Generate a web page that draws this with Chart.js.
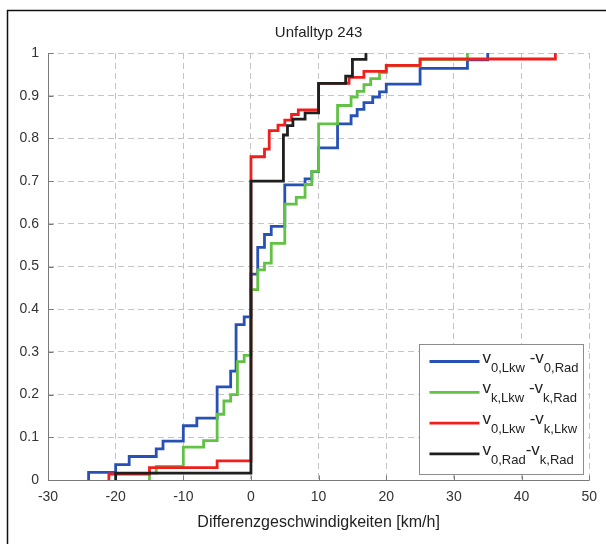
<!DOCTYPE html>
<html>
<head>
<meta charset="utf-8">
<script src="https://cdn.jsdelivr.net/npm/chart.js@4.4.0/dist/chart.umd.min.js"></script>
<style>
  html, body { margin: 0; padding: 0; background: #fff; }
</style>
</head>
<body>
<canvas id="cdfChart" width="606" height="544"></canvas>
<script>
// Sprungstellen (km/h) und Stufenhöhen der empirischen Verteilungen
const xBlau = [-24, -20, -18, -14, -13, -10, -8, -5, -3, -2.2, -1, 0, 1, 2, 3, 5, 8, 9, 10, 12.8, 14.8, 15.7, 16.7, 18, 19, 20, 25, 32, 35];
const yBlau = [0.018, 0.036, 0.055, 0.073, 0.091, 0.127, 0.145, 0.218, 0.255, 0.364, 0.382, 0.482, 0.545, 0.575, 0.594, 0.691, 0.705, 0.722, 0.778, 0.834, 0.853, 0.868, 0.884, 0.897, 0.909, 0.927, 0.964, 0.984, 1];

const xGruen = [-15, -14, -10, -7, -5, -4, -3, -2, -1, 0, 1, 2, 3, 5, 6.7, 8, 9, 10, 12.8, 14.8, 15.7, 16.7, 17.7, 19, 20, 25, 32];
const yGruen = [0.016, 0.032, 0.077, 0.092, 0.154, 0.185, 0.2, 0.277, 0.292, 0.446, 0.492, 0.508, 0.554, 0.646, 0.662, 0.692, 0.723, 0.834, 0.877, 0.897, 0.91, 0.926, 0.94, 0.954, 0.97, 0.985, 1];

const xRot = [-21, -15, -5, 0, 2, 2.7, 4, 5, 6, 7, 10, 14.5, 16.7, 20, 25, 45];
const yRot = [0.014, 0.029, 0.045, 0.757, 0.775, 0.818, 0.831, 0.843, 0.856, 0.867, 0.929, 0.943, 0.957, 0.971, 0.986, 1];

const xSchwarz = [-20, 0, 4.8, 5.4, 6.2, 8, 10, 14, 15, 17];
const ySchwarz = [0.016, 0.70, 0.808, 0.83, 0.845, 0.86, 0.929, 0.946, 0.985, 1];

const serienNamen = ['v0,Lkw-v0,Rad', 'vk,Lkw-vk,Rad', 'v0,Lkw-vk,Lkw', 'v0,Rad-vk,Rad'];
// Legendentext: [Haupttext, Index]
const legendeTeile = [
    [['v', '0,Lkw'], [' -v', '0,Rad']],
    [['v', 'k,Lkw'], [' -v', 'k,Rad']],
    [['v', '0,Lkw'], [' -v', 'k,Lkw']],
    [['v', '0,Rad'], ['-v', 'k,Rad']]
];
const farben = ['#2751b5', '#62c246', '#f21d1d', '#1f1f1f'];

const xTicks = [-30, -20, -10, 0, 10, 20, 30, 40, 50];
const yTicks = [0, 0.1, 0.2, 0.3, 0.4, 0.5, 0.6, 0.7, 0.8, 0.9, 1];
const yTickTexte = ['0', '0.1', '0.2', '0.3', '0.4', '0.5', '0.6', '0.7', '0.8', '0.9', '1'];

const titel = 'Unfalltyp 243';
const achsenTitel = 'Differenzgeschwindigkeiten [km/h]';

const schrift = '"Liberation Sans", Arial, Helvetica, sans-serif';
Chart.defaults.font.family = schrift;
Chart.defaults.color = '#333';

function stufen(xs, ys) {
    const punkte = [{ x: xs[0], y: 0 }];
    xs.forEach((x, i) => punkte.push({ x: x, y: ys[i] }));
    return punkte;
}

function serie(i, xs, ys) {
    return {
        label: serienNamen[i],
        data: stufen(xs, ys),
        borderColor: farben[i],
        backgroundColor: farben[i],
        borderWidth: 2.8,
        pointRadius: 0,
        stepped: 'before',
        fill: false,
        order: 3 - i
    };
}

// weißer Hintergrund, Rahmen der Abbildung und Titel über dem Achsenbereich
const rahmenPlugin = {
    id: 'rahmen',
    beforeDraw(chart) {
        const { ctx, chartArea } = chart;
        ctx.save();
        ctx.fillStyle = '#fff';
        ctx.fillRect(0, 0, chart.width, chart.height);
        ctx.strokeStyle = '#111';
        ctx.lineWidth = 1.5;
        ctx.beginPath();
        ctx.moveTo(7.5, chart.height);
        ctx.lineTo(7.5, 10.5);
        ctx.lineTo(chart.width, 10.5);
        ctx.stroke();
        ctx.fillStyle = '#222';
        ctx.font = '15px ' + schrift;
        ctx.textAlign = 'center';
        ctx.textBaseline = 'middle';
        ctx.fillText(titel, (chartArea.left + chartArea.right) / 2, 33);
        ctx.restore();
    }
};

// Achsenlinien und kurze Teilstriche nach innen, wie bei MATLAB
const teilstrichPlugin = {
    id: 'teilstriche',
    beforeDatasetsDraw(chart) {
        const { ctx, chartArea, scales } = chart;
        ctx.save();
        ctx.strokeStyle = '#7a7a7a';
        ctx.lineWidth = 1;
        ctx.setLineDash([]);
        ctx.beginPath();
        const l = Math.round(chartArea.left) + 0.5;
        const b = Math.round(chartArea.bottom) + 0.5;
        ctx.moveTo(l, chartArea.top);
        ctx.lineTo(l, b);
        ctx.lineTo(chartArea.right, b);
        xTicks.forEach(v => {
            const px = Math.round(scales.x.getPixelForValue(v)) + 0.5;
            ctx.moveTo(px, b);
            ctx.lineTo(px, b - 5);
        });
        yTicks.forEach(v => {
            const py = Math.round(scales.y.getPixelForValue(v)) + 0.5;
            ctx.moveTo(l, py);
            ctx.lineTo(l + 5, py);
        });
        ctx.stroke();
        ctx.restore();
    }
};

// Legende mit tiefgestellten Indizes
const legendePlugin = {
    id: 'legendeMitIndex',
    afterDatasetsDraw(chart) {
        const { ctx, chartArea } = chart;
        const breite = 164, hoehe = 130;
        const x0 = Math.round(chartArea.right - 6 - breite) + 0.5;
        const y0 = Math.round(chartArea.bottom - 6 - hoehe) + 0.5;
        ctx.save();
        ctx.fillStyle = '#fff';
        ctx.fillRect(x0, y0, breite, hoehe);
        ctx.strokeStyle = '#8c8c8c';
        ctx.lineWidth = 1;
        ctx.strokeRect(x0, y0, breite, hoehe);
        chart.data.datasets.forEach((ds, i) => {
            const y = y0 + 17 + i * 30.8;
            ctx.strokeStyle = ds.borderColor;
            ctx.lineWidth = ds.borderWidth;
            ctx.beginPath();
            ctx.moveTo(x0 + 10, y);
            ctx.lineTo(x0 + 60, y);
            ctx.stroke();
            let tx = x0 + 63;
            ctx.fillStyle = '#222';
            ctx.textBaseline = 'alphabetic';
            legendeTeile[i].forEach(([haupt, index]) => {
                ctx.font = '17px ' + schrift;
                ctx.fillText(haupt, tx, y + 1);
                tx += ctx.measureText(haupt).width;
                ctx.font = '13px ' + schrift;
                ctx.fillText(index, tx, y + 10);
                tx += ctx.measureText(index).width;
            });
        });
        ctx.restore();
    }
};

new Chart(document.getElementById('cdfChart'), {
    type: 'line',
    data: {
        datasets: [
            serie(0, xBlau, yBlau),
            serie(1, xGruen, yGruen),
            serie(2, xRot, yRot),
            serie(3, xSchwarz, ySchwarz)
        ]
    },
    options: {
        responsive: false,
        animation: false,
        locale: 'en-US',
        layout: { padding: { left: 0, right: 15, top: 53, bottom: 0 } },
        plugins: {
            legend: { display: false },
            tooltip: { enabled: false },
            title: { display: false }
        },
        scales: {
            x: {
                type: 'linear',
                min: -30,
                max: 50,
                afterFit(scale) { scale.height = 64; },
                afterBuildTicks(scale) { scale.ticks = xTicks.map(v => ({ value: v })); },
                ticks: { padding: 9, font: { size: 14 }, color: '#333', callback: v => String(v) },
                grid: { color: '#c4c4c4', lineWidth: 1, drawTicks: false },
                border: { display: false, dash: [6, 4] },
                title: {
                    display: true,
                    text: achsenTitel,
                    color: '#222',
                    font: { size: 16 },
                    padding: { top: 4, bottom: 12 }
                }
            },
            y: {
                type: 'linear',
                min: 0,
                max: 1,
                afterFit(scale) { scale.width = 48; },
                afterBuildTicks(scale) { scale.ticks = yTicks.map(v => ({ value: v })); },
                ticks: {
                    padding: 9,
                    font: { size: 14 },
                    color: '#333',
                    callback: (v, i) => yTickTexte[i]
                },
                grid: { color: '#c4c4c4', lineWidth: 1, drawTicks: false },
                border: { display: false, dash: [6, 4] }
            }
        }
    },
    plugins: [rahmenPlugin, teilstrichPlugin, legendePlugin]
});
</script>
</body>
</html>
